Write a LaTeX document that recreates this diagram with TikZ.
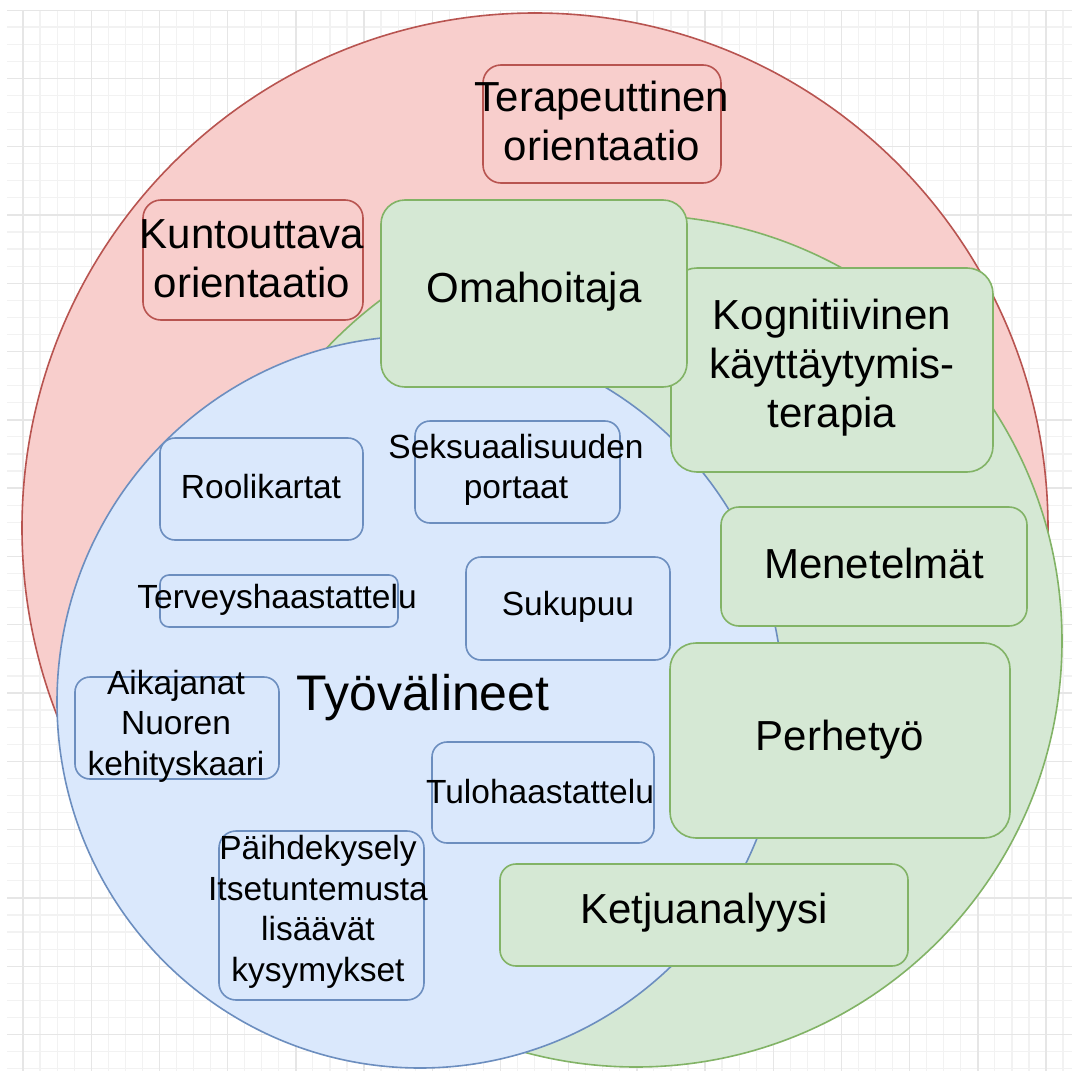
\documentclass[tikz,border=0pt]{standalone}
\usepackage{fontspec}
\setmainfont{Liberation Sans}
\definecolor{redfill}{HTML}{F8CECC}
\definecolor{redline}{HTML}{B85450}
\definecolor{greenfill}{HTML}{D5E8D4}
\definecolor{greenline}{HTML}{82B366}
\definecolor{bluefill}{HTML}{DAE8FC}
\definecolor{blueline}{HTML}{6C8EBF}
\definecolor{gridmin}{HTML}{F2F2F2}
\definecolor{gridmaj}{HTML}{E6E6E6}
\tikzset{
  gridminor/.style={draw=gridmin, line width=1.2pt},
  gridmajor/.style={draw=gridmaj, line width=1.4pt},
  rbox/.style={draw=redline, fill=redfill, line width=1.6pt, inner sep=0pt, rectangle},
  gbox/.style={draw=greenline, fill=greenfill, line width=1.6pt, inner sep=0pt, rectangle},
  bbox/.style={draw=blueline, fill=bluefill, line width=1.6pt, inner sep=0pt, rectangle},
  bigtxt/.style={font=\fontsize{42}{49}\selectfont, align=center, inner sep=0pt, text=black},
  smalltxt/.style={font=\fontsize{33.5}{40.5}\selectfont, align=center, inner sep=0pt, text=black},
  titletxt/.style={font=\fontsize{50}{58}\selectfont, align=center, inner sep=0pt, text=black},
}
\begin{document}
\begin{tikzpicture}[x=1pt,y=-1pt]
\useasboundingbox (0,0) rectangle (1072,1071);
\fill[white] (0,0) rectangle (1072,1071);
% grid
\begin{scope}
\clip (7,10) rectangle (1072,1071);
\foreach \j in {-1,...,62} {
  \draw[gridminor] ({23+17.05*\j},10) -- ({23+17.05*\j},1071);
  \draw[gridminor] (7,{10+17.075*\j}) -- (1072,{10+17.075*\j});
}
\foreach \k in {0,...,15} {
  \draw[gridmajor] ({23+68.2*\k},10) -- ({23+68.2*\k},1071);
  \draw[gridmajor] (7,{10+68.3*\k}) -- (1072,{10+68.3*\k});
}
\end{scope}
% circles
\draw[draw=redline, fill=redfill, line width=1.6pt] (535,528) ellipse [x radius=513pt, y radius=515pt];
\draw[draw=greenline, fill=greenfill, line width=1.6pt] (636,641) circle [radius=426pt];
\draw[draw=blueline, fill=bluefill, line width=1.6pt] (420,702) ellipse [x radius=363pt, y radius=366pt];
% red boxes
\node[rbox, rounded corners=18pt, minimum width=238pt, minimum height=118pt] (terap) at (602,124) {};
\node[rbox, rounded corners=18pt, minimum width=220pt, minimum height=120pt] (kunt) at (253,260) {};
% green boxes
\node[gbox, rounded corners=26pt, minimum width=322pt, minimum height=204pt] (kogn) at (832,370) {};
\node[gbox, rounded corners=24pt, minimum width=306pt, minimum height=187pt] (omah) at (534,293.5) {};
\node[gbox, rounded corners=18pt, minimum width=306pt, minimum height=119pt] (menet) at (874,566.5) {};
\node[gbox, rounded corners=26pt, minimum width=340pt, minimum height=195pt] (perhe) at (840,740.5) {};
\node[gbox, rounded corners=16pt, minimum width=408pt, minimum height=102pt] (ketju) at (704,915) {};
% blue boxes
\node[bbox, rounded corners=15pt, minimum width=203pt, minimum height=102pt] (rooli) at (261.5,489) {};
\node[bbox, rounded corners=15pt, minimum width=205pt, minimum height=102pt] (seks) at (517.5,472) {};
\node[bbox, rounded corners=9pt, minimum width=238pt, minimum height=52pt] (terv) at (279,601) {};
\node[bbox, rounded corners=15pt, minimum width=204pt, minimum height=103pt] (suku) at (568,608.5) {};
\node[bbox, rounded corners=15pt, minimum width=204pt, minimum height=102pt] (aika) at (177,728) {};
\node[bbox, rounded corners=15pt, minimum width=222pt, minimum height=101pt] (tulo) at (543,792.5) {};
\node[bbox, rounded corners=17pt, minimum width=205pt, minimum height=169pt] (paih) at (321.5,915.5) {};
% texts
\node[bigtxt] (terap-t) at (602,121) {Terapeuttinen\\orientaatio};
\node[bigtxt] (kunt-t) at (252,259) {Kuntouttava\\orientaatio};
\node[bigtxt] (omah-t) at (534,292) {Omahoitaja};
\node[bigtxt] (kogn-t) at (832,368) {Kognitiivinen\\käyttäytymis-\\terapia};
\node[bigtxt] (menet-t) at (874,563) {Menetelmät};
\node[bigtxt] (perhe-t) at (840,740) {Perhetyö};
\node[bigtxt] (ketju-t) at (704,913) {Ketjuanalyysi};
\node[smalltxt] (rooli-t) at (261,487) {Roolikartat};
\node[smalltxt] (seks-t) at (516,470) {Seksuaalisuuden\\portaat};
\node[smalltxt] (terv-t) at (277,600) {Terveyshaastattelu};
\node[smalltxt] (suku-t) at (568,607) {Sukupuu};
\node[smalltxt] (aika-t) at (176,726) {Aikajanat\\Nuoren\\kehityskaari};
\node[smalltxt] (tulo-t) at (540,792) {Tulohaastattelu};
\node[smalltxt] (paih-t) at (318,912) {Päihdekysely\\Itsetuntemusta\\lisäävät\\kysymykset};
\node[titletxt] (tyov-t) at (423,698) {Työvälineet};
\end{tikzpicture}
\end{document}
